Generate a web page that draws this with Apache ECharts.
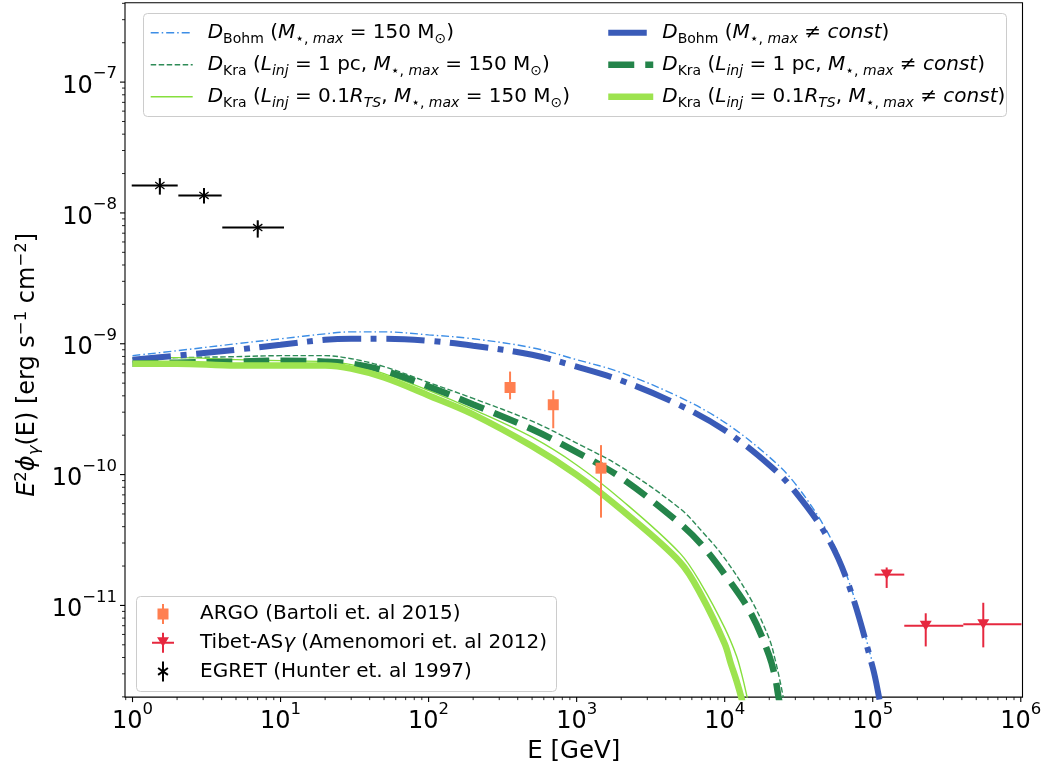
<!DOCTYPE html>
<html><head><meta charset="utf-8">
<script src="https://cdn.jsdelivr.net/npm/echarts@6/dist/echarts.min.js"></script>
<style>html,body{margin:0;padding:0;background:#fff}#c{width:1051px;height:769px}</style>
</head><body><div id="c"></div><script>
// ---------- data (E in GeV, E^2 phi in erg s^-1 cm^-2) ----------
const bohm150E = [1,2,5,10,20,30,50,100,200,500,1e3,2e3,5e3,1e4,2e4,3e4,5e4,7e4,1e5,1.1e5,1.15e5];
const bohm150F = [8.11e-10,8.85e-10,1.00e-9,1.091e-9,1.191e-9,1.233e-9,1.233e-9,1.170e-9,1.091e-9,9.33e-10,7.56e-10,6.02e-10,3.89e-10,2.51e-10,1.363e-10,8.50e-11,3.55e-11,1.454e-11,3.59e-12,2.12e-12,1.6e-12];

const kra1_150E = [1,2,5,10,20,30,50,100,200,500,1e3,2e3,5e3,7e3,1e4,1.5e4,2e4,2.2e4,2.4e4,2.5e4];
const kra1_150F = [7.69e-10,7.83e-10,7.97e-10,8.11e-10,8.11e-10,7.69e-10,6.69e-10,5.06e-10,3.82e-10,2.56e-10,1.74e-10,1.144e-10,5.49e-11,3.70e-11,2.29e-11,1.118e-11,5.56e-12,3.78e-12,2.44e-12,1.91e-12];

const kraR_150E = [1,2,5,10,20,30,50,100,200,500,1e3,2e3,5e3,7e3,1e4,1.2e4,1.3e4,1.4e4,1.45e4];
const kraR_150F = [7.83e-10,7.83e-10,7.56e-10,7.43e-10,7.30e-10,6.93e-10,5.92e-10,4.40e-10,3.15e-10,1.93e-10,1.185e-10,6.43e-11,2.50e-11,1.43e-11,6.74e-12,4.13e-12,3.01e-12,2.12e-12,1.72e-12];

const bohmVarE = [1,2,5,10,20,30,50,100,200,500,1e3,2e3,5e3,1e4,2e4,3e4,5e4,7e4,1e5,1.1e5,1.15e5];
const bohmVarF = [7.56e-10,8.11e-10,9.00e-10,9.83e-10,1.072e-9,1.091e-9,1.091e-9,1.054e-9,9.66e-10,8.25e-10,6.69e-10,5.24e-10,3.38e-10,2.18e-10,1.185e-10,7.39e-11,3.25e-11,1.356e-11,3.35e-12,2.02e-12,1.5e-12];

const kra1VarE = [1,2,5,10,20,30,50,100,200,500,1e3,2e3,5e3,7e3,1e4,1.5e4,2e4,2.2e4,2.3e4,2.4e4];
const kra1VarF = [7.05e-10,7.17e-10,7.30e-10,7.43e-10,7.30e-10,7.05e-10,6.24e-10,4.72e-10,3.44e-10,2.22e-10,1.487e-10,9.44e-11,4.22e-11,2.90e-11,1.73e-11,8.76e-12,4.12e-12,2.76e-12,2.05e-12,1.6e-12];

const kraRVarE = [1,2,5,10,20,30,50,100,200,500,1e3,2e3,5e3,7e3,1e4,1.1e4,1.2e4,1.3e4,1.35e4];
const kraRVarF = [7.05e-10,7.05e-10,6.81e-10,6.81e-10,6.81e-10,6.46e-10,5.52e-10,4.03e-10,2.89e-10,1.65e-10,9.95e-11,5.40e-11,2.14e-11,1.178e-11,5.09e-12,3.59e-12,2.67e-12,1.95e-12,1.6e-12];

// ARGO (Bartoli et al. 2015)
const argoE = [355, 695, 1461];
const argoF = [4.63e-10, 3.42e-10, 1.12e-10];
const argoFlo = [3.76e-10, 2.26e-10, 4.69e-11];
const argoFhi = [6.13e-10, 4.40e-10, 1.68e-10];
// Tibet-ASgamma (Amenomori et al. 2012)
const tibetE = [1.242e5, 2.28e5, 5.58e5];
const tibetElo = [1.03e5, 1.633e5, 4.09e5];
const tibetEhi = [1.633e5, 4.09e5, 1.01e6];
const tibetF = [1.72e-11, 6.98e-12, 7.19e-12];
const tibetFlo = [1.36e-11, 4.86e-12, 4.78e-12];
const tibetFhi = [1.95e-11, 8.71e-12, 1.048e-11];
// EGRET (Hunter et al. 1997)
const egretE = [1.53, 3.04, 7.01];
const egretElo = [0.988, 2.04, 4.04];
const egretEhi = [2.02, 4.0, 10.55];
const egretF = [1.62e-8, 1.36e-8, 7.73e-9];
const egretFlo = [1.38e-8, 1.18e-8, 6.48e-9];
const egretFhi = [1.845e-8, 1.55e-8, 8.79e-9];

// axis tick labels (exponents of 10)
const xTickExponents = [0,1,2,3,4,5,6];
const yTickExponents = [-11,-10,-9,-8,-7];
const X_MIN = 0.8898, X_MAX = 1.027e6, Y_MIN = 1.992e-12, Y_MAX = 4.045e-7;

// ---------- helpers ----------
const FONT = 'DejaVu Sans';
function pairs(xs, ys){ return xs.map((x,i)=>[x, ys[i]]); }
function isPow(v, list){
  const l = Math.log10(v), n = Math.round(l);
  return (Math.abs(l-n) < 1e-6 && list.indexOf(n) >= 0) ? n : null;
}
function powLabel(list){
  return function(v){
    const n = isPow(v, list);
    if (n === null) return '';
    return '{b|10}{s|' + String(n).replace('-', '\u2212') + '}';
  };
}
const tickRich = {
  b: {fontFamily: FONT, fontSize: 24, lineHeight: 33, verticalAlign: 'bottom', color: '#000'},
  s: {fontFamily: FONT, fontSize: 16.5, verticalAlign: 'top', color: '#000'}
};

// tick marks (major + minor) drawn through the axes' own scales
const tickData = [];
for (let d = -1; d <= 6; d++) for (let m = 1; m <= 9; m++) {
  const v = m * Math.pow(10, d);
  if (v >= X_MIN && v <= X_MAX) tickData.push([v, 1e-9, 0, m === 1 ? 1 : 0]);
}
for (let d = -12; d <= -7; d++) for (let m = 1; m <= 9; m++) {
  const v = m * Math.pow(10, d);
  if (v >= Y_MIN && v <= Y_MAX) tickData.push([10, v, 1, m === 1 ? 1 : 0]);
}

function errRender(color){
  return function(params, api){
    const x = api.value(0), y = api.value(1);
    const xlo = api.value(2), xhi = api.value(3), ylo = api.value(4), yhi = api.value(5);
    const ch = [];
    if (ylo > 0) {
      const a = api.coord([x, ylo]), b = api.coord([x, yhi]);
      ch.push({type:'line', shape:{x1:a[0], y1:a[1], x2:b[0], y2:b[1]}, style:{stroke:color, lineWidth:2}});
    }
    if (xlo > 0) {
      const a = api.coord([xlo, y]), b = api.coord([xhi, y]);
      ch.push({type:'line', shape:{x1:a[0], y1:a[1], x2:b[0], y2:b[1]}, style:{stroke:color, lineWidth:2}});
    }
    return {type:'group', children: ch};
  };
}

const asteriskPath = 'path://M-1.1,-10L1.1,-10L1.1,10L-1.1,10Z' +
  'M-8.82,-4.84L-7.56,-6.64L8.82,4.84L7.56,6.64Z' +
  'M7.56,-6.64L8.82,-4.84L-7.56,6.64L-8.82,4.84Z';
const argoIcon = 'path://M0,10L0.01,10ZM22,10L21.99,10ZM10,0L12,0L12,20L10,20ZM5.5,4.5L16.5,4.5L16.5,15.5L5.5,15.5Z';
const tibetIcon = 'path://M0,9L22,9L22,11L0,11ZM10,0L12,0L12,20L10,20ZM5,4.5L17,4.5L11,14Z';
const egretIcon = 'path://M0,10L0.01,10ZM22,10L21.99,10ZM10,0L12,0L12,20L10,20Z' +
  'M5.52,7.38L6.66,5.74L16.48,12.62L15.34,14.26Z' +
  'M15.34,5.74L16.48,7.38L6.66,14.26L5.52,12.62Z';

const legendLabels = {
  bohm150: '{i|D}{sb|Bohm}{n| (}{i|M}{sb|\u22c6, }{si|max}{n| = 150 M}{sb|\u2299}{n|)}',
  kra1_150: '{i|D}{sb|Kra}{n| (}{i|L}{si|inj}{n| = 1 pc, }{i|M}{sb|\u22c6, }{si|max}{n| = 150 M}{sb|\u2299}{n|)}',
  kraR_150: '{i|D}{sb|Kra}{n| (}{i|L}{si|inj}{n| = 0.1}{i|R}{si|TS}{n|, }{i|M}{sb|\u22c6, }{si|max}{n| = 150 M}{sb|\u2299}{n|)}',
  bohmVar: '{i|D}{sb|Bohm}{n| (}{i|M}{sb|\u22c6, }{si|max}{n| \u2260 }{i|const}{n|)}',
  kra1Var: '{i|D}{sb|Kra}{n| (}{i|L}{si|inj}{n| = 1 pc, }{i|M}{sb|\u22c6, }{si|max}{n| \u2260 }{i|const}{n|)}',
  kraRVar: '{i|D}{sb|Kra}{n| (}{i|L}{si|inj}{n| = 0.1}{i|R}{si|TS}{n|, }{i|M}{sb|\u22c6, }{si|max}{n| \u2260 }{i|const}{n|)}',
  argo: '{n|ARGO (Bartoli et. al 2015)}',
  tibet: '{n|Tibet-AS}{i|\u03b3}{n| (Amenomori et. al 2012)}',
  egret: '{n|EGRET (Hunter et. al 1997)}'
};
const legRich = {
  n: {fontFamily: FONT, fontSize: 20, lineHeight: 28, color: '#000'},
  i: {fontFamily: FONT, fontSize: 20, fontStyle: 'italic', lineHeight: 28, color: '#000'},
  sb: {fontFamily: FONT, fontSize: 14, verticalAlign: 'bottom', color: '#000'},
  si: {fontFamily: FONT, fontSize: 14, fontStyle: 'italic', verticalAlign: 'bottom', color: '#000'}
};
const fmt = name => legendLabels[name];

function curve(name, E, F, color, width, type, z){
  return {name, type:'line', data: pairs(E, F), symbol:'none', showSymbol:false,
    smooth: 0.35, clip: true, z: z,
    lineStyle:{color, width, type, cap:'butt'}, itemStyle:{color}, emphasis:{disabled:true}};
}
const lineLegendStyle = {width:'inherit', type:'inherit', color:'inherit', cap:'butt'};

const chart = echarts.init(document.getElementById('c'), null, {renderer:'canvas'});
chart.setOption({
  animation: false,
  backgroundColor: '#fff',
  grid: {left: 125, right: 28.5, top: 2.7, bottom: 67.3, show: true, borderColor: '#000', borderWidth: 1.1, backgroundColor: 'transparent'},
  xAxis: {type:'log', min: X_MIN, max: X_MAX, logBase: 10,
    axisLine:{show:false}, axisTick:{show:false}, splitLine:{show:false}, minorTick:{show:false},
    axisLabel:{formatter: powLabel(xTickExponents), rich: tickRich, margin: 4, showMinLabel: false, showMaxLabel: false},
    name: 'E [GeV]', nameLocation:'middle', nameGap: 33,
    nameTextStyle:{fontFamily: FONT, fontSize: 24.5, color:'#000'}},
  yAxis: {type:'log', min: Y_MIN, max: Y_MAX, logBase: 10,
    axisLine:{show:false}, axisTick:{show:false}, splitLine:{show:false}, minorTick:{show:false},
    axisLabel:{formatter: powLabel(yTickExponents), rich: tickRich, margin: 8, showMinLabel: false, showMaxLabel: false},
    name: '{i|E}{sup|2}{i|\u03d5}{sub|\u03b3}{n|(E) [erg s}{sup|\u22121}{n| cm}{sup|\u22122}{n|]}',
    nameLocation:'middle', nameGap: 82, nameMoveOverlap: false,
    nameTextStyle:{fontFamily: FONT, fontSize: 24, color:'#000', padding:[0,30,0,0],
      rich:{
        n:{fontFamily: FONT, fontSize: 24, lineHeight: 30, color:'#000'},
        i:{fontFamily: FONT, fontSize: 24, fontStyle:'italic', lineHeight: 30, color:'#000'},
        sup:{fontFamily: FONT, fontSize: 16.5, verticalAlign:'top', color:'#000'},
        sub:{fontFamily: FONT, fontSize: 16.5, fontStyle:'italic', verticalAlign:'bottom', color:'#000'}
      }}},
  legend: [
    {data:['bohm150','kra1_150','kraR_150'], orient:'vertical', left:150, top:22.7, padding:0,
     itemGap:8, itemWidth:42, itemHeight:14, formatter: fmt, selectedMode:false, z: 10,
     itemStyle:{opacity:0}, lineStyle: lineLegendStyle, textStyle:{rich: legRich, padding:[0,0,0,10]}},
    {data:['bohmVar','kra1Var','kraRVar'], orient:'vertical', left:605, top:22.7, padding:0,
     itemGap:8, itemWidth:45, itemHeight:14, formatter: fmt, selectedMode:false, z: 10,
     itemStyle:{opacity:0}, lineStyle: lineLegendStyle, textStyle:{rich: legRich, padding:[0,0,0,4]}},
    {data:[{name:'argo', icon: argoIcon},{name:'tibet', icon: tibetIcon},{name:'egret', icon: egretIcon}],
     orient:'vertical', left:152, top:604, padding:0,
     itemGap:8.7, itemWidth:22, itemHeight:20, formatter: fmt, selectedMode:false, z: 10,
     textStyle:{rich: legRich, padding:[0,0,0,21]}}
  ],
  graphic: [
    {type:'rect', z: 5, silent: true, shape:{x:143.5, y:13.5, width:863, height:103, r:4},
     style:{fill:'rgba(255,255,255,0.8)', stroke:'#cccccc', lineWidth:1}},
    {type:'rect', z: 5, silent: true, shape:{x:136.5, y:596.5, width:420, height:95, r:4},
     style:{fill:'rgba(255,255,255,0.8)', stroke:'#cccccc', lineWidth:1}}
  ],
  series: [
    curve('bohm150', bohm150E, bohm150F, '#3d8ee6', 1.4, [8,3,1.5,3], 2),
    curve('kra1_150', kra1_150E, kra1_150F, '#2e8b57', 1.4, [5.5,2.5], 2),
    curve('kraR_150', kraR_150E, kraR_150F, '#86df3d', 1.4, 'solid', 2),
    curve('bohmVar', bohmVarE, bohmVarF, '#3a5bb8', 6, [38.5,9.6,6,9.6], 3),
    curve('kra1Var', kra1VarE, kra1VarF, '#24844a', 6.5, [26,11], 3),
    curve('kraRVar', kraRVarE, kraRVarF, '#9de34f', 6.5, 'solid', 3),
    {name:'argo', type:'custom', renderItem: errRender('#ff7f50'), z: 6, itemStyle:{color:'#ff7f50'},
     data: argoE.map((e,i)=>[e, argoF[i], 0, 0, argoFlo[i], argoFhi[i]]), encode:{x:0, y:1}, silent:true},
    {name:'tibet', type:'custom', renderItem: errRender('#e6283f'), z: 6, itemStyle:{color:'#e6283f'},
     data: tibetE.map((e,i)=>[e, tibetF[i], tibetElo[i], tibetEhi[i], tibetFlo[i], tibetFhi[i]]), encode:{x:0, y:1}, silent:true},
    {name:'egret', type:'custom', renderItem: errRender('#000000'), z: 6, itemStyle:{color:'#000000'},
     data: egretE.map((e,i)=>[e, egretF[i], egretElo[i], egretEhi[i], egretFlo[i], egretFhi[i]]), encode:{x:0, y:1}, silent:true},
    {name:'argo', type:'scatter', symbol:'rect', symbolSize:11, z: 7, data: pairs(argoE, argoF), itemStyle:{color:'#ff7f50', opacity:1}, silent:true},
    {name:'tibet', type:'scatter', symbol:'triangle', symbolRotate:180, symbolSize:[12,10], z: 7, data: pairs(tibetE, tibetF), itemStyle:{color:'#e6283f', opacity:1}, silent:true},
    {name:'egret', type:'scatter', symbol: asteriskPath, symbolSize:[10,12], z: 7, data: pairs(egretE, egretF), itemStyle:{color:'#000', opacity:1}, silent:true},
    {name:'ticks', type:'custom', z: 8, silent: true, encode:{x:0, y:1}, data: tickData,
     renderItem: function(params, api){
       const cs = params.coordSys;
       const kind = api.value(2), major = api.value(3);
       const len = major ? 5 : 3, lw = major ? 1.1 : 0.85;
       if (kind === 0) {
         const px = api.coord([api.value(0), 1e-9])[0];
         const yb = cs.y + cs.height;
         return {type:'line', shape:{x1:px, y1:yb, x2:px, y2:yb+len}, style:{stroke:'#000', lineWidth:lw}};
       }
       const py = api.coord([10, api.value(1)])[1];
       return {type:'line', shape:{x1:cs.x-len, y1:py, x2:cs.x, y2:py}, style:{stroke:'#000', lineWidth:lw}};
     }}
  ]
});
</script></body></html>
